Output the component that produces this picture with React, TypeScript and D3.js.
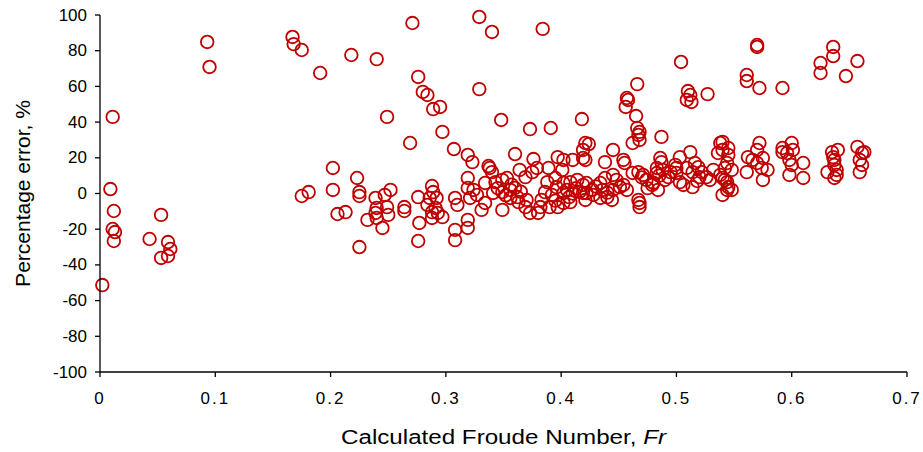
import React from "react";
import * as d3 from "d3";

const xTicks = [0, 0.1, 0.2, 0.3, 0.4, 0.5, 0.6, 0.7];
const xTickLabels = ["0", "0.1", "0.2", "0.3", "0.4", "0.5", "0.6", "0.7"];
const yTicks = [-100, -80, -60, -40, -20, 0, 20, 40, 60, 80, 100];

const froude = [
  0.002, 0.009, 0.011, 0.012, 0.011, 0.013, 0.012, 0.043, 0.053, 0.053, 0.059, 0.061, 0.059,
  0.093, 0.095, 0.167, 0.168, 0.175, 0.191, 0.175, 0.181,
  0.271, 0.329, 0.340, 0.384, 0.218, 0.240, 0.276, 0.280, 0.284, 0.289, 0.295, 0.329, 0.249,
  0.348, 0.373, 0.391, 0.418, 0.297, 0.269, 0.307, 0.202, 0.223, 0.360, 0.424, 0.445, 0.319,
  0.323, 0.337, 0.376, 0.379,
  0.570, 0.570, 0.636, 0.636, 0.625, 0.625, 0.657, 0.647, 0.504, 0.561, 0.561, 0.572, 0.592,
  0.510, 0.512, 0.509, 0.513, 0.527, 0.466, 0.457, 0.458, 0.456, 0.465, 0.466, 0.468, 0.467,
  0.468, 0.462, 0.487,
  0.202, 0.206, 0.213, 0.225, 0.225, 0.225, 0.232, 0.239, 0.240, 0.239, 0.240, 0.245, 0.249,
  0.252, 0.247, 0.250, 0.264, 0.264, 0.276, 0.277, 0.276, 0.288, 0.289, 0.286, 0.292, 0.284,
  0.291, 0.288, 0.293, 0.288, 0.297,
  0.319, 0.319, 0.324, 0.327, 0.321, 0.308, 0.310, 0.308, 0.308, 0.319, 0.319, 0.334, 0.343,
  0.349, 0.353, 0.338, 0.340, 0.341, 0.349, 0.356, 0.360, 0.362, 0.334, 0.331, 0.349, 0.356,
  0.363, 0.370, 0.369, 0.373, 0.380, 0.382, 0.364, 0.369, 0.375, 0.389, 0.397, 0.402, 0.401,
  0.410, 0.419, 0.421, 0.388, 0.395, 0.396, 0.402, 0.408, 0.414, 0.419, 0.422, 0.402, 0.392,
  0.386, 0.402, 0.408, 0.397, 0.390, 0.383,
  0.419, 0.421, 0.438, 0.454, 0.455, 0.486, 0.487, 0.483, 0.488, 0.483, 0.503, 0.512, 0.516,
  0.519, 0.514, 0.509, 0.499, 0.500, 0.532, 0.538, 0.542, 0.540, 0.538, 0.540, 0.536, 0.462,
  0.467, 0.471, 0.474, 0.479, 0.484, 0.490, 0.493, 0.467, 0.468, 0.468, 0.445, 0.448, 0.451,
  0.434, 0.436, 0.440, 0.444, 0.434, 0.438, 0.445, 0.454, 0.457, 0.422, 0.419, 0.427, 0.428,
  0.421, 0.500, 0.503, 0.506, 0.514, 0.526, 0.529, 0.520, 0.544, 0.544, 0.540,
  0.545, 0.540, 0.545, 0.544, 0.548, 0.542, 0.545, 0.548, 0.562, 0.561, 0.570, 0.572, 0.575,
  0.579, 0.575, 0.570, 0.574, 0.566, 0.592, 0.596, 0.600, 0.598, 0.600, 0.598, 0.610, 0.610,
  0.592, 0.601, 0.635, 0.636, 0.637, 0.637, 0.639, 0.639, 0.637, 0.631, 0.640, 0.657, 0.661,
  0.659, 0.661, 0.659, 0.663,
  0.405, 0.410, 0.413, 0.407, 0.416, 0.395, 0.430, 0.440, 0.352, 0.357, 0.365, 0.345, 0.475,
  0.480, 0.485, 0.495, 0.470, 0.522, 0.518,
];

const percentError = [
  -51.3, 2.5, 42.9, -9.8, -19.9, -21.6, -26.6, -25.5, -12.0, -36.1, -27.2, -31.1, -35.0,
  84.9, 70.9, 87.7, 83.7, 80.4, 67.5, -1.4, 0.8,
  95.5, 98.9, 90.5, 92.2, 77.6, 75.3, 65.3, 56.9, 55.2, 47.3, 48.5, 58.5, 42.9,
  41.2, 36.1, 36.7, 41.7, 34.5, 28.3, 24.9, 14.3, 8.7, 22.1, 27.7, 24.4, 21.6,
  17.6, 15.4, 19.3, 14.3,
  83.2, 82.1, 82.1, 77.0, 73.1, 67.5, 74.2, 65.8, 73.7, 66.4, 63.0, 59.1, 59.1,
  57.4, 55.2, 52.4, 51.3, 55.7, 61.3, 53.5, 52.4, 48.5, 43.4, 36.7, 34.5, 32.8,
  30.0, 28.3, 31.7,
  2.0, -11.5, -10.4, 0.8, -1.4, -30.0, -14.8, -2.5, -8.1, -10.9, -13.7, -19.3, -7.6,
  2.0, -0.8, -12.0, -7.6, -9.8, -2.0, -16.5, -26.6, 4.2, 0.8, -2.5, -2.5, -6.4,
  -8.1, -10.4, -10.9, -13.7, -13.2,
  8.7, 3.1, 2.0, -0.8, -2.5, -2.5, -6.4, -20.4, -26.1, -14.8, -19.3, 5.9, 6.4,
  7.6, 8.7, 14.3, 12.0, 0.3, 0.8, 2.0, 3.1, -2.0, -5.3, -9.2, -9.2, -2.5,
  -4.8, -3.6, -7.6, -10.9, -10.9, -7.6, 13.2, 9.2, 12.0, 14.3, 20.4, 18.8, 13.2,
  18.8, 19.9, 28.3, 6.4, 8.7, 3.6, 5.9, 6.4, 7.6, 4.8, 0.3, 0.3, -0.8,
  0.8, -5.3, -4.8, -7.6, -7.6, -3.6,
  24.4, 18.8, 17.6, 18.8, 17.1, 19.9, 17.6, 14.3, 13.2, 11.5, 20.4, 23.2, 17.1,
  14.8, 12.0, 14.3, 16.0, 14.3, 13.2, 10.4, 14.3, 8.7, 28.3, 28.9, 22.7, 11.5,
  12.0, 10.4, 7.6, 4.8, 2.0, 7.6, 9.2, -3.6, -5.3, -7.6, 10.4, 7.6, 3.6,
  5.9, 2.0, -2.0, -3.6, -2.5, 8.7, 2.0, 4.8, 2.0, 5.9, 0.3, 2.0, -0.8,
  -3.6, 11.5, 6.4, 4.8, 3.6, 9.2, 7.6, 9.2, 6.4, 2.0, -0.8,
  25.5, 24.4, 21.6, 17.1, 13.2, 7.6, 3.6, 2.0, 20.4, 12.0, 24.4, 28.3, 19.9,
  13.2, 7.6, 17.1, 14.3, 18.8, 25.5, 22.7, 28.3, 18.8, 16.0, 10.4, 17.1, 8.7,
  23.2, 24.4, 23.2, 20.4, 18.8, 16.0, 13.2, 10.4, 8.7, 12.0, 24.4, 26.1, 22.7,
  18.8, 16.0, 12.0, 23.2,
  2.0, 0.0, 3.0, -2.0, 1.0, -4.0, 4.0, 0.5, -1.0, 5.0, 1.0, 3.0, 3.0,
  6.0, 10.0, 12.0, 9.0, 12.0, 7.0,
];

const W = 923;
const H = 452;
const FONT = "'Liberation Sans', Arial, sans-serif";

export default function App() {
  const x = d3.scaleLinear().domain([0, 0.7]).range([100, 907]);
  const y = d3.scaleLinear().domain([-100, 100]).range([372, 15]);
  const points = froude.map((f, i) => ({ f, e: percentError[i] }));
  const [x0, x1] = x.range();
  const [yb, yt] = y.range();

  return (
    <svg
      width={W}
      height={H}
      style={{ position: "absolute", left: 0, top: 0, background: "#fff" }}
      fontFamily={FONT}
    >
      <rect x={0} y={0} width={W} height={H} fill="#fff" />
      {points.map((p, i) => (
        <circle
          key={i}
          cx={x(p.f)}
          cy={y(p.e)}
          r={6.3}
          fill="none"
          stroke="#C00000"
          strokeWidth={1.8}
        />
      ))}
      {/* axes */}
      <line x1={x0} x2={x0} y1={yt} y2={yb} stroke="#000" strokeWidth={1.3} />
      <line x1={x0} x2={x1} y1={yb} y2={yb} stroke="#000" strokeWidth={1.3} />
      {yTicks.map((t) => (
        <g key={"y" + t}>
          <line x1={x0 - 5} x2={x0} y1={y(t)} y2={y(t)} stroke="#000" strokeWidth={1.3} />
          <text
            x={x0 - 13}
            y={y(t)}
            textAnchor="end"
            dominantBaseline="central"
            fontSize={17}
            fill="#000"
          >
            {t}
          </text>
        </g>
      ))}
      {xTicks.map((t, i) => (
        <g key={"x" + t}>
          <line x1={x(t)} x2={x(t)} y1={yb} y2={yb + 5} stroke="#000" strokeWidth={1.3} />
          <text
            x={x(t)}
            y={398}
            textAnchor="middle"
            dominantBaseline="central"
            fontSize={17}
            letterSpacing={2}
            fill="#000"
          >
            {xTickLabels[i]}
          </text>
        </g>
      ))}
      <text
        x={(x0 + x1) / 2}
        y={437}
        textAnchor="middle"
        dominantBaseline="central"
        fontSize={20}
        textLength={325}
        lengthAdjust="spacingAndGlyphs"
        fill="#000"
      >
        Calculated Froude Number, <tspan fontStyle="italic">Fr</tspan>
      </text>
      <text
        transform={`translate(22,${(yt + yb) / 2}) rotate(-90)`}
        textAnchor="middle"
        dominantBaseline="central"
        fontSize={21}
        fill="#000"
      >
        Percentage error, %
      </text>
    </svg>
  );
}
